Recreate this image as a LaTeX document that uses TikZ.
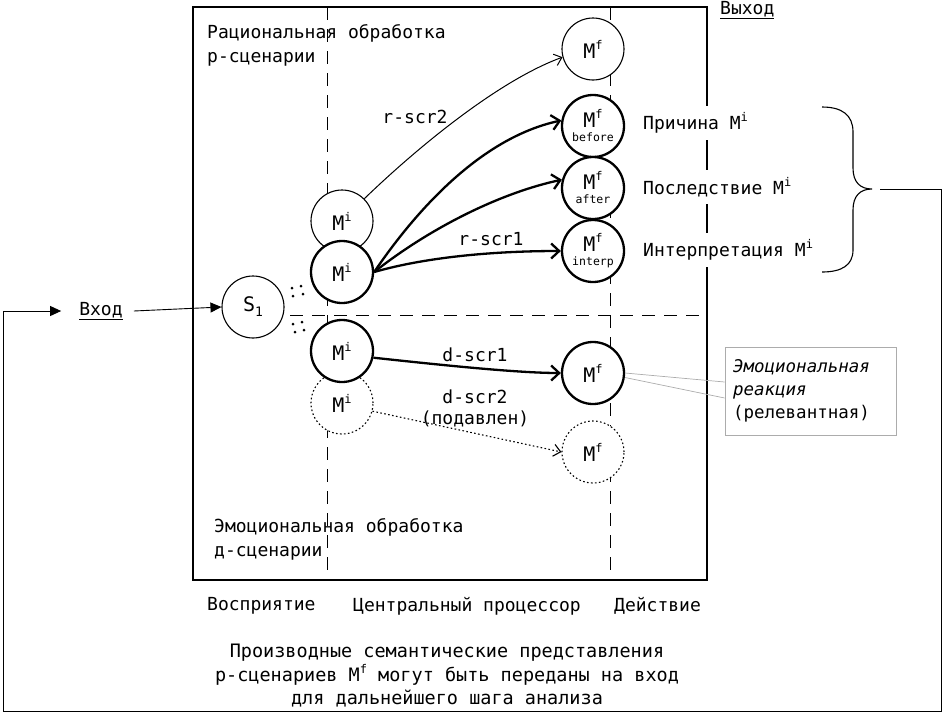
\documentclass[tikz,border=0pt]{standalone}
\usepackage{fontspec}
\setmainfont{DejaVu Sans Mono}
\usetikzlibrary{arrows.meta,calc}
\newcommand\supx[1]{\raisebox{0.45em}{\fontsize{12}{12}\selectfont #1}}
\newcommand\subx[1]{\raisebox{-0.25em}{\fontsize{13}{13}\selectfont #1}}
\begin{document}
\begin{tikzpicture}[x=1pt,y=-1pt,
 lbl/.style={font=\fontsize{18}{24}\selectfont, inner sep=0pt},
 circ/.style={circle,draw,fill=white,minimum size=62pt,inner sep=0pt,line width=1.1pt,font=\fontsize{20}{20}\selectfont},
 thickc/.style={circ,line width=2.3pt},
 dotc/.style={circ,line width=1.1pt,dash pattern=on 1.6pt off 2.4pt},
 sepline/.style={line width=0.9pt,dash pattern=on 13pt off 9pt},
 flow/.style={line width=1pt,-{Straight Barb[length=7pt,width=12pt]}},
 thickflow/.style={line width=2.3pt,-{Straight Barb[length=8pt,width=15pt]}},
 dotflow/.style={line width=1.1pt,dash pattern=on 1.6pt off 2.4pt,-{Straight Barb[length=7pt,width=12pt]}},
 fbline/.style={line width=0.9pt},
 tip/.style={-{Triangle[length=11pt,width=10pt]}},
 mflbl/.style={lbl,anchor=west,fill=white,inner xsep=3pt,inner ysep=7pt},
 ]
\useasboundingbox (0,0) rectangle (944,713);
% separators
\draw[sepline] (327,7) -- (327,580);
\draw[sepline] (610,7) -- (610,580);
\draw[sepline] (290,315) -- (707,315);
% frame
\draw[line width=1.5pt] (193,7) rectangle (707,580);

% region labels
\node[lbl,anchor=west,align=left] (rat) at (207,45) {Рациональная обработка\\р-сценарии};
\node[lbl,anchor=west,align=left] (emo) at (214,539) {Эмоциональная обработка\\д-сценарии};
\node[lbl,anchor=west] (perc) at (207,606) {Восприятие};
\node[lbl,anchor=west] (cpu) at (353,606) {Центральный процессор};
\node[lbl,anchor=west] (act) at (614,606) {Действие};
\node[lbl,align=center,font=\fontsize{18.5}{23.5}\selectfont] (note) at (447,676)
  {Производные семантические представления\\р-сценариев M\supx{f} могут быть переданы на вход\\для дальнейшего шага анализа};
\node[lbl,anchor=west] (vyhod) at (720,10) {\underline{Выход}};
\node[lbl] (vhod) at (101,311) {\underline{Вход}};

% circles
\node[circ] (S1) at (253,307) {S\subx{1}};
\node[circ] (mi0) at (342,221) {M\supx{i}};
\node[thickc] (mi1) at (342,272) {M\supx{i}};
\node[dotc] (mi3) at (342,403) {M\supx{i}};
\node[thickc] (mi2) at (342,351) {M\supx{i}};
\node[circ] (mf0) at (593,49) {M\supx{f}};
\node[thickc,align=center] (mfb) at (593,126) {M\supx{f}\\[-6pt]{\fontsize{11.5}{11.5}\selectfont before}};
\node[thickc,align=center] (mfa) at (593,188) {M\supx{f}\\[-6pt]{\fontsize{11.5}{11.5}\selectfont after}};
\node[thickc,align=center] (mfi) at (593,251) {M\supx{f}\\[-6pt]{\fontsize{11.5}{11.5}\selectfont interp}};
\node[thickc] (mfd) at (593,373) {M\supx{f}};
\node[dotc] (mfs) at (593,452) {M\supx{f}};

% dot clusters
\foreach \p in {(292,288),(293,296),(301,286),(303,294),(293,324),(295,332),(302,322),(304,330)}
  \fill \p circle (1.5);

% outcome labels
\node[mflbl] (cause) at (640,123) {Причина M\supx{i}};
\node[mflbl] (conseq) at (640,187) {Последствие M\supx{i}};
\node[mflbl] (interp) at (640,250) {Интерпретация M\supx{i}};

% edges
\draw[flow] (mi0.45) .. controls (420,145) and (500,80) .. (mf0.195);
\draw[thickflow] (mi1.east) .. controls (415,212) and (480,138) .. (mfb.170);
\draw[thickflow] (mi1.east) .. controls (430,228) and (500,193) .. (mfa.165);
\draw[thickflow] (mi1.east) .. controls (430,256) and (500,251) .. (mfi.west);
\draw[thickflow] (mi2.-12) .. controls (450,366) and (520,373) .. (mfd.west);
\draw[dotflow] (mi3.-15) -- (mfs.west);

% edge labels
\node[lbl] (l2) at (415,117) {r-scr2};
\node[lbl] (l1) at (491,239) {r-scr1};
\node[lbl] (d1) at (475,355) {d-scr1};
\node[lbl,align=center,font=\fontsize{18}{21}\selectfont] (d2) at (475,408) {d-scr2\\(подавлен)};

% callout
\node[draw=gray!65,line width=0.8pt,fill=white,minimum width=171pt,minimum height=88pt,
  text width=155pt,align=left,inner sep=8pt,font=\fontsize{17.5}{23}\selectfont] (em) at (810.5,391)
  {\textit{Эмоциональная}\\\textit{реакция}\\(релевантная)};
\draw[gray!65,line width=0.7pt] (mfd.east) -- ($(em.west)+(0,-9)$);
\draw[gray!65,line width=0.7pt] (mfd.-8) -- ($(em.west)+(0,7)$);

% brace
\draw[line width=1.1pt] (822,107) .. controls (842,107) and (853,115) .. (853,132) -- (853,168)
  .. controls (853,182) and (860,189) .. (872,189)
  .. controls (860,189) and (853,196) .. (853,210) -- (853,250)
  .. controls (853,265) and (842,272) .. (822,272);
\coordinate (btip) at (872,189);

% feedback loop and input
\draw[fbline,tip] ($(btip)+(8,0)$) -- (941,189) -- (941,711) -- (3,711) |- ($(vhod.west)+(-18,0)$);
\draw[fbline,tip] ($(vhod.east)+(11,0)$) -- (S1.west);
\end{tikzpicture}
\end{document}
